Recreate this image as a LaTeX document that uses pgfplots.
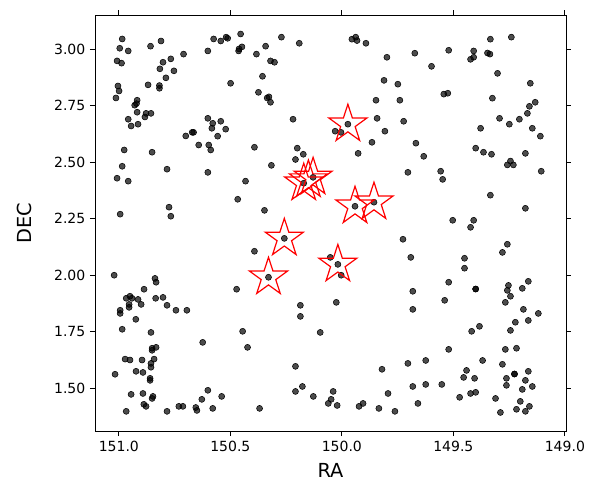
\documentclass[border=0pt]{standalone}
\usepackage{fontspec}
\setmainfont{DejaVu Sans}
\usepackage{pgfplots}
\pgfplotsset{compat=1.18}

% outlined five-point star, like matplotlib's '*' with no face
\pgfdeclareplotmark{ostar}{%
  \pgfpathmoveto{\pgfpointpolar{90}{\pgfplotmarksize}}%
  \pgfpathlineto{\pgfpointpolar{126}{0.382\pgfplotmarksize}}%
  \pgfpathlineto{\pgfpointpolar{162}{\pgfplotmarksize}}%
  \pgfpathlineto{\pgfpointpolar{198}{0.382\pgfplotmarksize}}%
  \pgfpathlineto{\pgfpointpolar{234}{\pgfplotmarksize}}%
  \pgfpathlineto{\pgfpointpolar{270}{0.382\pgfplotmarksize}}%
  \pgfpathlineto{\pgfpointpolar{306}{\pgfplotmarksize}}%
  \pgfpathlineto{\pgfpointpolar{342}{0.382\pgfplotmarksize}}%
  \pgfpathlineto{\pgfpointpolar{18}{\pgfplotmarksize}}%
  \pgfpathlineto{\pgfpointpolar{54}{0.382\pgfplotmarksize}}%
  \pgfpathclose
  \pgfusepathqstroke
}

\pgfplotstableread{
ra dec
150.985 3.044
150.996 3.003
150.958 2.991
150.858 3.012
150.811 3.035
150.575 3.044
150.601 2.991
150.710 2.977
151.008 2.947
150.988 2.937
150.767 2.956
150.802 2.941
150.816 2.912
150.753 2.903
150.789 2.872
151.004 2.836
150.999 2.814
151.013 2.783
150.869 2.841
150.818 2.838
150.818 2.826
150.918 2.773
150.921 2.758
150.929 2.751
150.918 2.720
150.878 2.715
150.856 2.715
150.883 2.699
150.958 2.689
150.945 2.659
150.914 2.667
150.601 2.693
150.579 2.671
150.583 2.649
150.557 2.614
150.671 2.631
150.665 2.631
150.700 2.615
150.642 2.575
150.597 2.575
150.588 2.553
150.976 2.553
150.851 2.543
150.543 3.035
150.519 3.052
150.512 3.047
150.454 3.066
150.271 3.052
150.191 3.025
150.461 3.000
150.448 3.009
150.463 2.991
150.342 3.012
150.383 2.977
150.320 2.947
150.302 2.941
150.356 2.879
150.499 2.848
150.374 2.808
150.335 2.783
150.327 2.788
150.320 2.764
150.219 2.689
150.030 2.636
150.543 2.680
150.521 2.645
150.392 2.565
150.200 2.561
150.173 2.534
150.208 2.511
149.955 3.043
149.938 3.052
149.932 3.037
149.892 3.025
149.521 2.994
149.673 2.981
149.798 2.963
149.598 2.923
149.811 2.861
149.749 2.844
149.543 2.800
149.525 2.804
149.847 2.773
149.740 2.773
149.842 2.693
149.723 2.680
149.973 2.667
150.004 2.631
149.807 2.636
149.865 2.587
149.668 2.583
149.927 2.538
149.633 2.525
149.334 3.043
149.240 3.052
149.409 2.991
149.409 2.963
149.423 2.954
149.347 2.982
149.336 2.977
149.302 2.892
149.155 2.848
149.325 2.782
149.133 2.764
149.159 2.746
149.168 2.715
149.293 2.693
149.249 2.667
149.204 2.689
149.378 2.649
149.146 2.649
149.110 2.614
149.400 2.561
149.365 2.543
149.329 2.534
149.177 2.538
149.244 2.504
149.258 2.487
149.231 2.487
150.985 2.481
150.784 2.468
150.601 2.454
151.008 2.428
150.958 2.415
150.775 2.300
150.767 2.260
150.994 2.269
151.021 1.999
150.838 1.985
150.833 1.968
150.887 1.937
150.950 1.906
150.967 1.897
150.941 1.897
150.914 1.892
150.835 1.897
150.802 1.901
150.900 1.870
150.784 1.866
150.954 1.870
150.954 1.857
150.994 1.844
150.994 1.830
150.744 1.844
150.695 1.844
150.924 1.804
150.985 1.760
150.856 1.746
150.624 1.702
150.833 1.680
150.851 1.676
150.851 1.667
150.972 1.628
150.950 1.624
150.896 1.624
150.842 1.628
150.856 1.609
150.856 1.592
151.017 1.561
150.923 1.574
150.892 1.569
150.860 1.543
150.860 1.534
150.945 1.472
150.892 1.476
150.847 1.463
150.851 1.454
150.888 1.428
150.878 1.419
150.967 1.397
150.784 1.397
150.731 1.419
150.713 1.419
150.655 1.414
150.650 1.401
150.628 1.450
150.601 1.490
150.579 1.410
150.316 2.485
150.432 2.415
150.467 2.335
150.347 2.286
150.171 2.406
150.129 2.432
150.258 2.162
150.392 2.105
150.329 1.990
150.472 1.937
150.052 2.078
149.704 2.454
149.557 2.459
149.548 2.423
149.941 2.304
149.856 2.322
149.503 2.242
149.726 2.158
149.691 2.078
150.018 2.047
150.003 1.999
149.521 1.968
149.682 1.928
149.539 1.888
149.106 2.459
149.334 2.353
149.177 2.295
149.409 2.242
149.423 2.211
149.258 2.136
149.280 2.100
149.450 2.074
149.450 2.030
149.400 1.938
149.400 1.938
149.164 1.972
149.191 1.941
149.253 1.954
149.258 1.932
149.244 1.906
149.267 1.879
149.186 1.848
149.119 1.830
149.164 1.799
149.222 1.791
149.244 1.755
149.418 1.751
149.383 1.773
149.267 1.671
149.217 1.676
149.369 1.622
149.280 1.605
149.441 1.578
149.454 1.547
149.405 1.543
149.226 1.562
149.226 1.562
149.164 1.574
149.262 1.543
149.177 1.534
149.262 1.512
149.146 1.507
149.191 1.494
149.472 1.459
149.423 1.476
149.400 1.481
149.311 1.454
149.200 1.441
149.159 1.419
149.217 1.406
149.177 1.397
149.289 1.392
150.186 1.866
150.186 1.817
150.025 1.879
150.445 1.751
150.423 1.680
150.097 1.746
150.208 1.596
150.539 1.463
150.369 1.410
150.208 1.485
150.177 1.507
150.128 1.463
150.039 1.485
150.048 1.450
150.061 1.432
150.021 1.423
149.682 1.848
149.521 1.671
149.820 1.583
149.704 1.609
149.624 1.622
149.793 1.476
149.682 1.507
149.624 1.516
149.552 1.516
149.923 1.419
149.905 1.432
149.834 1.410
149.762 1.397
149.659 1.432
}\sources

\pgfplotstableread{
ra dec
149.973 2.667
150.171 2.406
150.129 2.432
150.150 2.420
149.941 2.304
149.856 2.322
150.258 2.162
150.018 2.047
150.329 1.990
}\stars

\begin{document}
\begin{tikzpicture}
\useasboundingbox (-71.25pt,-51.75pt) rectangle (378.75pt,323.25pt);
\begin{axis}[
scale only axis,
width=353.25pt,height=312pt,
x dir=reverse,
xmin=148.995,xmax=151.107,
ymin=1.310,ymax=3.150,
xtick={149.0,149.5,150.0,150.5,151.0},
ytick={1.50,1.75,2.00,2.25,2.50,2.75,3.00},
xticklabel style={font=\fontsize{10.5}{12}\selectfont,/pgf/number format/.cd,fixed,fixed zerofill,precision=1},
yticklabel style={font=\fontsize{10.5}{12}\selectfont,/pgf/number format/.cd,fixed,fixed zerofill,precision=2},
/pgf/number format/assume math mode=true,
tick align=outside,
major tick length=3.75pt,
tick style={black,line width=0.6pt},
axis line style={line width=0.6pt},
xlabel={RA},ylabel={DEC},
label style={font=\fontsize{14.5}{17}\selectfont},
xlabel style={at={(axis description cs:0.5,-0.096)},anchor=center},
ylabel style={at={(axis description cs:-0.149,0.5)},anchor=center,rotate=0},
clip=false,
]
\addplot[only marks,mark=*,mark size=2.25pt,mark options={draw=none,fill=black,fill opacity=0.7}] table[x=ra,y=dec] {\sources};
\addplot[only marks,mark=ostar,mark size=15pt,mark options={draw=red,line width=0.9pt,fill=none}] table[x=ra,y=dec] {\stars};
\end{axis}
\end{tikzpicture}
\end{document}
